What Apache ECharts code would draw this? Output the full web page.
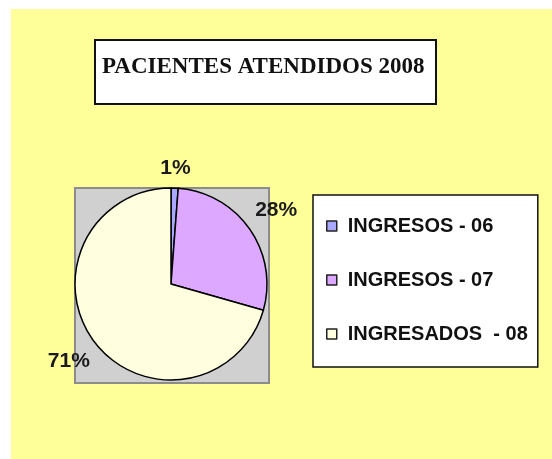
<!DOCTYPE html>
<html>
<head>
<meta charset="utf-8">
<script src="https://cdn.jsdelivr.net/npm/echarts@6/dist/echarts.min.js"></script>
<style>
  html, body { margin: 0; padding: 0; background: #fff; }
  #chart { width: 552px; height: 459px; }
</style>
</head>
<body>
<div id="chart"></div>
<script>
// datos
const categorias = ['INGRESOS - 06', 'INGRESOS - 07', 'INGRESADOS  - 08']
const pacientes = [6, 141, 353]
const colores = ['#A8A8FF', '#DDA8FF', '#FFFFE0']

const centro = [171, 284]
const radio = 96
const total = pacientes.reduce((a, b) => a + b, 0)

// angulo medio de cada porcion (empieza arriba, sentido horario)
const anguloMedio = (i) => {
    let acum = 0
    for (let k = 0; k < i; k++) acum += pacientes[k]
    return 2 * Math.PI * (acum + pacientes[i] / 2) / total
}

const chart = echarts.init(document.getElementById('chart'))
chart.setOption({
    backgroundColor: '#fff',
    animation: false,
    graphic: [
        {
            type: 'rect', z: -10, silent: true,
            shape: { x: 11, y: 9, width: 541, height: 450 },
            style: { fill: '#FFFF99' }
        },
        {
            type: 'rect', z: -5, silent: true,
            shape: { x: 75, y: 188, width: 194, height: 195 },
            style: { fill: '#D0D0D0', stroke: '#8C8C8C', lineWidth: 2 }
        }
    ],
    title: {
        text: 'PACIENTES ATENDIDOS 2008',
        left: 95,
        top: 40,
        padding: [16, 12, 25, 7],
        backgroundColor: '#fff',
        borderColor: '#111',
        borderWidth: 2,
        textStyle: {
            fontFamily: 'Liberation Serif',
            fontWeight: 'bold',
            fontSize: 23,
            color: '#111'
        }
    },
    legend: {
        orient: 'vertical',
        left: 313,
        top: 195,
        padding: [21, 10, 23, 13],
        itemGap: 34,
        itemWidth: 10,
        itemHeight: 10,
        icon: 'rect',
        backgroundColor: '#fff',
        borderColor: '#111',
        borderWidth: 1.5,
        data: categorias,
        itemStyle: { borderColor: '#222', borderWidth: 1.5 },
        textStyle: {
            fontFamily: 'Liberation Sans',
            fontWeight: 'bold',
            fontSize: 20,
            lineHeight: 20,
            color: '#111',
            padding: [0, 0, 0, 6]
        }
    },
    series: [
        {
            type: 'pie',
            center: centro,
            radius: radio,
            startAngle: 90,
            clockwise: true,
            itemStyle: { borderColor: '#000', borderWidth: 1.5 },
            emphasis: { disabled: true },
            label: {
                show: true,
                position: 'inside',
                formatter: (p) => Math.round(p.percent) + '%',
                fontFamily: 'Liberation Sans',
                fontWeight: 'bold',
                fontSize: 21,
                color: '#1a1a1a'
            },
            labelLine: { show: false },
            labelLayout: (p) => {
                const a = anguloMedio(p.dataIndex)
                const ux = Math.sin(a)
                const uy = -Math.cos(a)
                const w = p.labelRect.width
                const h = p.labelRect.height
                const d = radio + 9 + Math.abs(ux) * w / 2 + Math.abs(uy) * h / 2
                return {
                    x: centro[0] + ux * d,
                    y: centro[1] + uy * d,
                    align: 'center',
                    verticalAlign: 'middle'
                }
            },
            data: categorias.map((name, i) => ({
                name: name,
                value: pacientes[i],
                itemStyle: { color: colores[i] }
            }))
        }
    ]
})
</script>
</body>
</html>
